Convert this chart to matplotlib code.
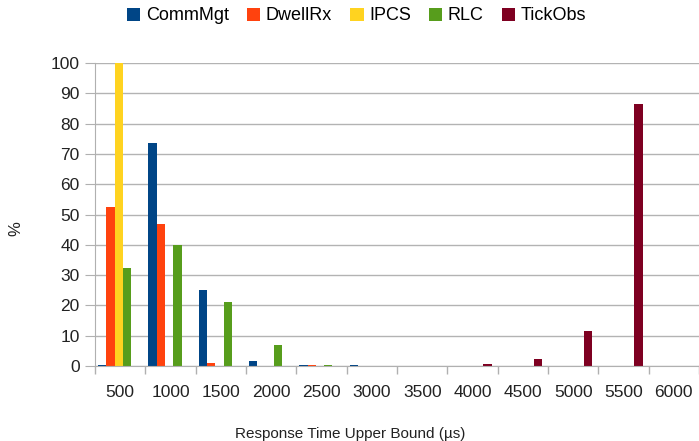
import numpy as np
import matplotlib.pyplot as plt
from matplotlib.ticker import FixedLocator

plt.rcParams['font.family'] = ['Liberation Sans', 'DejaVu Sans']

bounds = ["500", "1000", "1500", "2000", "2500", "3000",
          "3500", "4000", "4500", "5000", "5500", "6000"]
comm_mgt = [0.5, 73.5, 25, 1.5, 0.3, 0.2, 0, 0, 0, 0, 0, 0]
dwell_rx = [52.5, 47, 1, 0, 0.3, 0, 0, 0, 0, 0, 0, 0]
ipcs = [100, 0, 0, 0, 0, 0, 0, 0, 0, 0, 0, 0]
rlc = [32.5, 40, 21, 7, 0.3, 0, 0, 0, 0, 0, 0, 0]
tick_obs = [0, 0, 0, 0, 0, 0, 0, 0.7, 2.3, 11.5, 86.5, 0]

series = [("CommMgt", comm_mgt, "#004586"),
          ("DwellRx", dwell_rx, "#ff420e"),
          ("IPCS", ipcs, "#ffd320"),
          ("RLC", rlc, "#579d1c"),
          ("TickObs", tick_obs, "#7e0021")]

fig = plt.figure(figsize=(6.99, 4.41), dpi=100)
ax = fig.add_axes([0.136, 0.170, 0.864, 0.687])

x = np.arange(len(bounds))
w = 0.165
for i, (name, vals, col) in enumerate(series):
    ax.bar(x - 0.03 + (i - 2) * w, vals, width=w, color=col, label=name)

ax.set_xlim(-0.5, len(bounds) - 0.5)
ax.set_ylim(0, 100)
ax.set_yticks(range(0, 101, 10))
ax.set_xticks(x)
ax.set_xticklabels(bounds)
ax.xaxis.set_minor_locator(FixedLocator(np.arange(-0.5, len(bounds), 1.0)))
ax.tick_params(axis='x', which='major', length=0, pad=14, labelsize=12.5, colors='#222222')
ax.tick_params(axis='x', which='minor', length=6, color='#b0b0b0', width=1)
ax.tick_params(axis='y', length=7, color='#b0b0b0', labelsize=12.5, labelcolor='#222222', pad=4)

ax.grid(axis='y', color='#b3b3b3', linewidth=1)
ax.set_axisbelow(True)
for s in ['top', 'right']:
    ax.spines[s].set_visible(False)
for s in ['left', 'bottom']:
    ax.spines[s].set_color('#b0b0b0')

ax.set_ylabel("%", fontsize=12, color='#222222')
ax.yaxis.set_label_coords(-0.118, 0.455)
ax.set_xlabel("Response Time Upper Bound (µs)", fontsize=11, color='#222222')
ax.xaxis.set_label_coords(0.422, -0.2)

fig.legend(loc='upper center', bbox_to_anchor=(0.51, 1.02), ncol=5, frameon=False,
           fontsize=13, handlelength=0.75, handleheight=0.75, handletextpad=0.3,
           columnspacing=1.0)

fig.savefig("out.png", dpi=100)
